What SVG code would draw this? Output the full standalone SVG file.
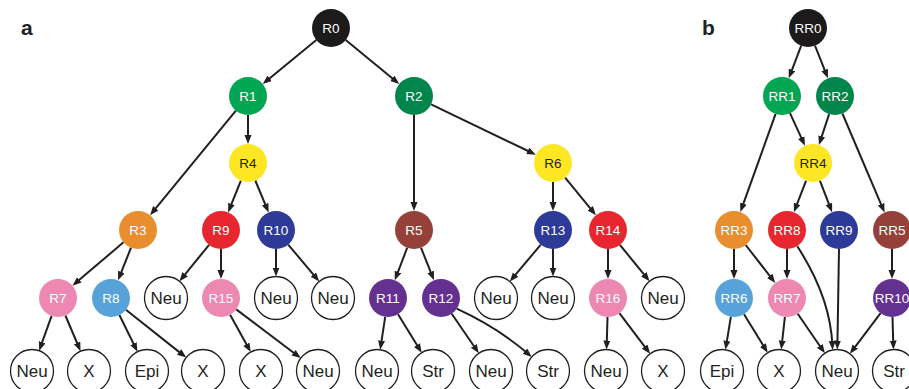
<svg xmlns="http://www.w3.org/2000/svg" width="909" height="389" viewBox="0 0 909 389">
<defs>
<marker id="ah" markerUnits="userSpaceOnUse" markerWidth="10" markerHeight="8" refX="5" refY="3.5" orient="auto">
<path d="M0,0 L9,3.5 L0,7 z" fill="#231f20"/>
</marker>
<style>
.e{fill:none;stroke:#231f20;stroke-width:2;marker-end:url(#ah)}
.c{stroke:none}
.w{fill:#fff;stroke:#231f20;stroke-width:1.3}
.t{font-family:"Liberation Sans",Arial,sans-serif;font-size:13.5px;fill:#fff;text-anchor:middle}
.td{fill:#231f20}
.tw{font-family:"Liberation Sans",Arial,sans-serif;font-size:17px;fill:#231f20;text-anchor:middle}
.p{font-family:"Liberation Sans",Arial,sans-serif;font-size:21px;font-weight:bold;fill:#231f20}
.k{fill:#1c1a1a}.g1{fill:#00a651}.g2{fill:#00854a}.y{fill:#fde725}.o{fill:#e88e2f}.r{fill:#e8262f}.b{fill:#2e3a97}.br{fill:#96403a}.pk{fill:#ec88b2}.lb{fill:#57a2d9}.pu{fill:#653191}
</style>
</defs>
<text class="p" x="21" y="35">a</text>
<text class="p" x="702" y="35">b</text>
<g id="connectors">
<path class="e" d="M316.3,40 L265.8,81.5"/>
<path class="e" d="M345.7,40 L396.2,81.5"/>
<path class="e" d="M235.9,110.7 L152.6,212.2"/>
<path class="e" d="M248,115 L248,140"/>
<path class="e" d="M414,115 L414,207"/>
<path class="e" d="M431.1,104.3 L532.3,153"/>
<path class="e" d="M240.9,180.6 L229.6,208.7"/>
<path class="e" d="M255.3,180.5 L267.1,208.8"/>
<path class="e" d="M553,182 L553,207"/>
<path class="e" d="M565.1,177.7 L593.4,212.2"/>
<path class="e" d="M123.5,242.3 L75.5,283.1"/>
<path class="e" d="M131,247.7 L119.5,276.6"/>
<path class="e" d="M209.1,244.8 L182,278.2"/>
<path class="e" d="M221,249 L221,275"/>
<path class="e" d="M276,249 L276,272.5"/>
<path class="e" d="M288.2,244.6 L316.6,278.4"/>
<path class="e" d="M407.2,247.7 L396.2,276.6"/>
<path class="e" d="M421,247.7 L432.5,276.6"/>
<path class="e" d="M540.8,244.6 L512.4,278.4"/>
<path class="e" d="M553,249 L553,272.5"/>
<path class="e" d="M608,249 L608,275"/>
<path class="e" d="M619.9,244.8 L647,278.2"/>
<path class="e" d="M51.6,315.9 L40.5,346.9"/>
<path class="e" d="M65.4,315.5 L79,347.5"/>
<path class="e" d="M119.4,315 L135.7,348.1"/>
<path class="e" d="M125.9,309.8 L183.1,355.1"/>
<path class="e" d="M230.1,314.7 L248.8,348.6"/>
<path class="e" d="M236.2,309.4 L297.6,355.7"/>
<path class="e" d="M385.2,316.8 L380.8,345.7"/>
<path class="e" d="M398,314.2 L419.6,349.3"/>
<path class="e" d="M451.7,313.7 L476.6,350"/>
<path class="e" d="M456.7,308.7 Q497.5,327.4 528.7,354.3"/>
<path class="e" d="M607.5,317 L606.7,345.5"/>
<path class="e" d="M619.4,313.2 L647.7,350.6"/>
<path class="e" d="M801.2,45.7 L790.2,74.6"/>
<path class="e" d="M815,45.7 L826.5,74.6"/>
<path class="e" d="M775.6,113.9 L741.7,208.3"/>
<path class="e" d="M790,113.2 L803.3,142.2"/>
<path class="e" d="M829.1,114.1 L820.2,141.1"/>
<path class="e" d="M842.4,113.5 L883,208.8"/>
<path class="e" d="M806.1,180.7 L795.3,208.6"/>
<path class="e" d="M819.9,180.7 L830.7,208.6"/>
<path class="e" d="M892,249 L892,275"/>
<path class="e" d="M734,249 L734,275"/>
<path class="e" d="M745.7,245 L772.8,279.8"/>
<path class="e" d="M787,249 L787,275"/>
<path class="e" d="M797.3,246.3 C814,272 831,308 832.4,346"/>
<path class="e" d="M839,249 L837.4,345.5"/>
<path class="e" d="M730.9,316.7 L726.1,345.8"/>
<path class="e" d="M744,314.2 L765.6,349.3"/>
<path class="e" d="M784.9,316.9 L781.7,345.6"/>
<path class="e" d="M797.7,313.7 L822.6,350"/>
<path class="e" d="M880.6,313.2 L852.3,350.6"/>
<path class="e" d="M892.5,317 L893.3,345.5"/>
</g>
<g id="R0"><circle class="c k" cx="331" cy="28" r="19"/><text class="t" x="331" y="32.8">R0</text></g>
<g id="R1"><circle class="c g1" cx="248" cy="96" r="19"/><text class="t" x="248" y="100.8">R1</text></g>
<g id="R2"><circle class="c g2" cx="414" cy="96" r="19"/><text class="t" x="414" y="100.8">R2</text></g>
<g id="R4"><circle class="c y" cx="248" cy="163" r="19"/><text class="t td" x="248" y="167.8">R4</text></g>
<g id="R6"><circle class="c y" cx="553" cy="163" r="19"/><text class="t td" x="553" y="167.8">R6</text></g>
<g id="R3"><circle class="c o" cx="138" cy="230" r="19"/><text class="t" x="138" y="234.8">R3</text></g>
<g id="R9"><circle class="c r" cx="221" cy="230" r="19"/><text class="t" x="221" y="234.8">R9</text></g>
<g id="R10"><circle class="c b" cx="276" cy="230" r="19"/><text class="t" x="276" y="234.8">R10</text></g>
<g id="R5"><circle class="c br" cx="414" cy="230" r="19"/><text class="t" x="414" y="234.8">R5</text></g>
<g id="R13"><circle class="c b" cx="553" cy="230" r="19"/><text class="t" x="553" y="234.8">R13</text></g>
<g id="R14"><circle class="c r" cx="608" cy="230" r="19"/><text class="t" x="608" y="234.8">R14</text></g>
<g id="R7"><circle class="c pk" cx="58" cy="298" r="19"/><text class="t" x="58" y="302.8">R7</text></g>
<g id="R8"><circle class="c lb" cx="111" cy="298" r="19"/><text class="t" x="111" y="302.8">R8</text></g>
<g id="N_a1"><circle class="w" cx="166" cy="298" r="21.5"/><text class="tw" x="166" y="304">Neu</text></g>
<g id="R15"><circle class="c pk" cx="221" cy="298" r="19"/><text class="t" x="221" y="302.8">R15</text></g>
<g id="N_a2"><circle class="w" cx="276" cy="298" r="21.5"/><text class="tw" x="276" y="304">Neu</text></g>
<g id="N_a3"><circle class="w" cx="333" cy="298" r="21.5"/><text class="tw" x="333" y="304">Neu</text></g>
<g id="R11"><circle class="c pu" cx="388" cy="298" r="19"/><text class="t" x="388" y="302.8">R11</text></g>
<g id="R12"><circle class="c pu" cx="441" cy="298" r="19"/><text class="t" x="441" y="302.8">R12</text></g>
<g id="N_a4"><circle class="w" cx="496" cy="298" r="21.5"/><text class="tw" x="496" y="304">Neu</text></g>
<g id="N_a5"><circle class="w" cx="553" cy="298" r="21.5"/><text class="tw" x="553" y="304">Neu</text></g>
<g id="R16"><circle class="c pk" cx="608" cy="298" r="19"/><text class="t" x="608" y="302.8">R16</text></g>
<g id="N_a6"><circle class="w" cx="663" cy="298" r="21.5"/><text class="tw" x="663" y="304">Neu</text></g>
<g id="L_a1"><circle class="w" cx="32" cy="371" r="21.5"/><text class="tw" x="32" y="377">Neu</text></g>
<g id="L_a2"><circle class="w" cx="89" cy="371" r="21.5"/><text class="tw" x="89" y="377">X</text></g>
<g id="L_a3"><circle class="w" cx="147" cy="371" r="21.5"/><text class="tw" x="147" y="377">Epi</text></g>
<g id="L_a4"><circle class="w" cx="203" cy="371" r="21.5"/><text class="tw" x="203" y="377">X</text></g>
<g id="L_a5"><circle class="w" cx="261" cy="371" r="21.5"/><text class="tw" x="261" y="377">X</text></g>
<g id="L_a6"><circle class="w" cx="318" cy="371" r="21.5"/><text class="tw" x="318" y="377">Neu</text></g>
<g id="L_a7"><circle class="w" cx="377" cy="371" r="21.5"/><text class="tw" x="377" y="377">Neu</text></g>
<g id="L_a8"><circle class="w" cx="433" cy="371" r="21.5"/><text class="tw" x="433" y="377">Str</text></g>
<g id="L_a9"><circle class="w" cx="491" cy="371" r="21.5"/><text class="tw" x="491" y="377">Neu</text></g>
<g id="L_a10"><circle class="w" cx="548" cy="371" r="21.5"/><text class="tw" x="548" y="377">Str</text></g>
<g id="L_a11"><circle class="w" cx="606" cy="371" r="21.5"/><text class="tw" x="606" y="377">Neu</text></g>
<g id="L_a12"><circle class="w" cx="663" cy="371" r="21.5"/><text class="tw" x="663" y="377">X</text></g>
<g id="RR0"><circle class="c k" cx="808" cy="28" r="19"/><text class="t" x="808" y="32.8">RR0</text></g>
<g id="RR1"><circle class="c g1" cx="782" cy="96" r="19"/><text class="t" x="782" y="100.8">RR1</text></g>
<g id="RR2"><circle class="c g2" cx="835" cy="96" r="19"/><text class="t" x="835" y="100.8">RR2</text></g>
<g id="RR4"><circle class="c y" cx="813" cy="163" r="19"/><text class="t td" x="813" y="167.8">RR4</text></g>
<g id="RR3"><circle class="c o" cx="734" cy="230" r="19"/><text class="t" x="734" y="234.8">RR3</text></g>
<g id="RR8"><circle class="c r" cx="787" cy="230" r="19"/><text class="t" x="787" y="234.8">RR8</text></g>
<g id="RR9"><circle class="c b" cx="839" cy="230" r="19"/><text class="t" x="839" y="234.8">RR9</text></g>
<g id="RR5"><circle class="c br" cx="892" cy="230" r="19"/><text class="t" x="892" y="234.8">RR5</text></g>
<g id="RR6"><circle class="c lb" cx="734" cy="298" r="19"/><text class="t" x="734" y="302.8">RR6</text></g>
<g id="RR7"><circle class="c pk" cx="787" cy="298" r="19"/><text class="t" x="787" y="302.8">RR7</text></g>
<g id="RR10"><circle class="c pu" cx="892" cy="298" r="19"/><text class="t" x="892" y="302.8">RR10</text></g>
<g id="L_b1"><circle class="w" cx="722" cy="371" r="21.5"/><text class="tw" x="722" y="377">Epi</text></g>
<g id="L_b2"><circle class="w" cx="779" cy="371" r="21.5"/><text class="tw" x="779" y="377">X</text></g>
<g id="L_b3"><circle class="w" cx="837" cy="371" r="21.5"/><text class="tw" x="837" y="377">Neu</text></g>
<g id="L_b4"><circle class="w" cx="894" cy="371" r="21.5"/><text class="tw" x="894" y="377">Str</text></g>
</svg>
